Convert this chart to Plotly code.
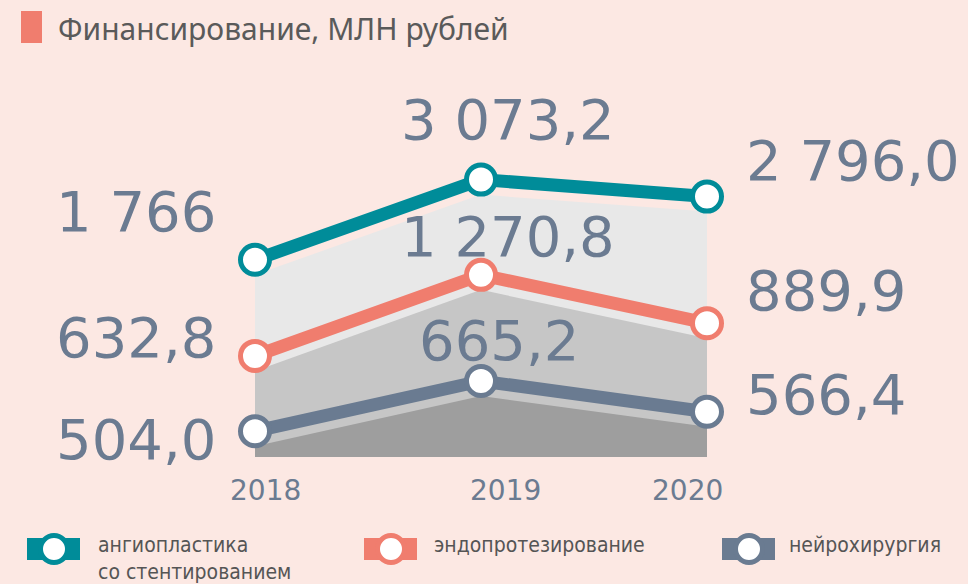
import plotly.graph_objects as go

# ---------------- data ----------------
years = [2018, 2019, 2020]
year_labels = ["2018", "2019", "2020"]
series_names = ["ангиопластика<br>со стентированием", "эндопротезирование", "нейрохирургия"]
angio = [1766.0, 3073.2, 2796.0]
endo = [632.8, 1270.8, 889.9]
neuro = [504.0, 665.2, 566.4]
angio_text = ["1 766", "3 073,2", "2 796,0"]
endo_text = ["632,8", "1 270,8", "889,9"]
neuro_text = ["504,0", "665,2", "566,4"]
title_text = "Финансирование, МЛН рублей"

# ---------------- style ----------------
W, H = 968, 584
L, R, T, B = 255, 707, 100, 457   # plot area in pixels
PW, PH = R - L, B - T

BG = "#fce8e3"
TXT = "#6b7b91"
colors = ["#008c99", "#f07d6e", "#6a7b91"]
fills = ["#e8e8e8", "#c6c6c6", "#9e9e9e"]
ranges = [[-1449.7, 4371.3], [-163.3, 2647.7], [421.1, 1567.9]]
FILL_DROP = 15  # fills sit a little below the lines (pixels)
NUMFONT = "DejaVu Sans"


def px(x):
    return (x - L) / PW


def py(y):
    return (B - y) / PH


fill_axes = ["y", "y2", "y3"]
line_axes = ["y4", "y5", "y6"]
fill_ranges = []
for lo, hi in ranges:
    d = FILL_DROP * (hi - lo) / PH
    fill_ranges.append([lo + d, hi + d])

fig = go.Figure()
all_vals = [angio, endo, neuro]
all_text = [angio_text, endo_text, neuro_text]

# fills first (drawn below all lines)
for i, vals in enumerate(all_vals):
    lo = fill_ranges[i][0] - 10 * (fill_ranges[i][1] - fill_ranges[i][0])
    fig.add_trace(go.Scatter(x=years, y=[lo] * len(years), mode="lines",
                             line=dict(width=0, color=fills[i]), yaxis=fill_axes[i],
                             showlegend=False, hoverinfo="skip"))
    fig.add_trace(go.Scatter(x=years, y=vals, mode="lines", fill="tonexty",
                             fillcolor=fills[i], yaxis=fill_axes[i],
                             line=dict(width=0, color=fills[i]),
                             showlegend=False, hoverinfo="skip"))

# lines + markers
for i, vals in enumerate(all_vals):
    fig.add_trace(go.Scatter(x=years, y=vals, mode="lines+markers", yaxis=line_axes[i],
                             line=dict(width=13, color=colors[i]),
                             marker=dict(size=29, color="white", line=dict(width=5, color=colors[i])),
                             cliponaxis=False, showlegend=False,
                             name=series_names[i].replace("<br>", " ")))

# value labels: (xanchor, xshift, yshift) per year position
offsets = [
    [("right", -37, 48), ("center", 27, 60), ("left", 37, 36)],
    [("right", -37, 18), ("center", 27, 38), ("left", 37, 33)],
    [("right", -37, -8), ("center", 18, 41), ("left", 37, 17)],
]
for i, vals in enumerate(all_vals):
    for j, v in enumerate(vals):
        xa, xs, ys = offsets[i][j]
        fig.add_annotation(x=years[j], y=v, xref="x", yref=line_axes[i], text=all_text[i][j],
                           showarrow=False, xanchor=xa, yanchor="middle", xshift=xs, yshift=ys,
                           font=dict(family=NUMFONT, size=56, color=TXT, weight=400))

# year labels under the axis
year_shift = [10, 24, -20]
for j, yv in enumerate(years):
    fig.add_annotation(x=yv, y=py(490), xref="x", yref="paper", text=year_labels[j],
                       showarrow=False, xanchor="center", yanchor="middle", xshift=year_shift[j],
                       font=dict(family=NUMFONT, size=28, color=TXT))

# title
fig.add_shape(type="rect", xref="paper", yref="paper", x0=px(21), x1=px(42), y0=py(43), y1=py(11),
              fillcolor="#f07d6e", line=dict(width=0))
fig.add_annotation(xref="paper", yref="paper", x=px(56), y=py(28), text=title_text, showarrow=False,
                   xanchor="left", yanchor="middle",
                   font=dict(family="Noto Sans", size=30, color="#5a5a5a"))

# legend (custom)
leg_x = [27, 364, 722]
leg_text_x = [96, 432, 787]
for i in range(3):
    x0 = leg_x[i]
    fig.add_shape(type="rect", xref="paper", yref="paper", x0=px(x0), x1=px(x0 + 53),
                  y0=py(560), y1=py(538), fillcolor=colors[i], line=dict(width=0))
    cx = x0 + 27
    fig.add_shape(type="circle", xref="paper", yref="paper", x0=px(cx - 13.5), x1=px(cx + 13.5),
                  y0=py(549 + 13.5), y1=py(549 - 13.5), fillcolor="white",
                  line=dict(width=5, color=colors[i]))
    fig.add_annotation(xref="paper", yref="paper", x=px(leg_text_x[i]), y=py(531), text=series_names[i],
                       showarrow=False, xanchor="left", yanchor="top", align="left",
                       font=dict(family="DejaVu Sans Condensed", size=21, color="#555555"))

ax_common = dict(visible=False, fixedrange=True)
layout_axes = {"yaxis": dict(range=fill_ranges[0], **ax_common)}
for k in range(1, 6):
    rng = fill_ranges[k] if k < 3 else ranges[k - 3]
    layout_axes["yaxis%d" % (k + 1)] = dict(range=rng, overlaying="y", **ax_common)

fig.update_layout(
    width=W, height=H, autosize=False,
    margin=dict(l=L, r=W - R, t=T, b=H - B, pad=0),
    paper_bgcolor=BG, plot_bgcolor="rgba(0,0,0,0)",
    xaxis=dict(range=[years[0], years[-1]], tickvals=years, showticklabels=False,
               showgrid=False, zeroline=False, showline=False, ticks="", fixedrange=True),
    showlegend=False,
    **layout_axes,
)

fig.write_html("out.html", config={"displayModeBar": False},
               post_script="document.body.style.margin='0';document.body.style.background='%s';" % BG)
